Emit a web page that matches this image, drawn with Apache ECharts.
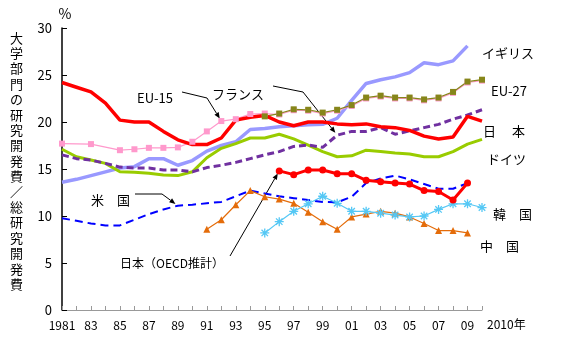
<!DOCTYPE html>
<html>
<head>
<meta charset="utf-8">
<script src="https://cdn.jsdelivr.net/npm/echarts@6/dist/echarts.min.js"></script>
<style>
  html, body { margin: 0; background: #fff; }
  #main { width: 564px; height: 350px; }
</style>
</head>
<body>
<div id="main"></div>
<script>
// 年
const years = [1981, 1982, 1983, 1984, 1985, 1986, 1987, 1988, 1989, 1990,
  1991, 1992, 1993, 1994, 1995, 1996, 1997, 1998, 1999, 2000,
  2001, 2002, 2003, 2004, 2005, 2006, 2007, 2008, 2009, 2010]
const eu15Years = [1981, 1983, 1985, 1986, 1987, 1988, 1989, 1990,
  1991, 1992, 1993, 1994, 1995, 1996, 1997, 1998, 1999, 2000,
  2001, 2002, 2003, 2004, 2005, 2006, 2007, 2008, 2009, 2010]

// 大学部門の研究開発費／総研究開発費 (%)
const japan = [24.2, 23.7, 23.2, 22.0, 20.2, 20.0, 20.0, 19.0, 18.1, 17.6,
  17.6, 18.3, 20.2, 20.5, 20.7, 20.0, 19.6, 20.0, 20.0, 19.8,
  19.7, 19.8, 19.5, 19.4, 19.1, 18.5, 18.2, 18.4, 20.6, 20.1]
const uk = [13.6, 13.9, 14.3, 14.7, 15.1, 15.25, 16.1, 16.1, 15.4, 15.9,
  16.9, 17.5, 17.9, 19.2, 19.3, 19.5, 19.6, 19.7, 19.75, 20.4,
  22.3, 24.1, 24.5, 24.8, 25.25, 26.3, 26.1, 26.5, 28.1]
const germany = [17.1, 16.3, 15.95, 15.6, 14.7, 14.65, 14.55, 14.35, 14.3, 14.7,
  16.2, 17.2, 17.7, 18.3, 18.3, 18.7, 18.2, 17.55, 16.85, 16.3,
  16.4, 17.0, 16.85, 16.7, 16.6, 16.3, 16.3, 16.85, 17.65, 18.15]
const france = [16.5, 16.1, 15.95, 15.6, 15.2, 15.1, 15.1, 14.9, 14.9, 14.7,
  15.15, 15.4, 15.7, 16.1, 16.5, 16.85, 17.4, 17.55, 17.3, 18.6,
  19.0, 19.0, 19.4, 18.7, 19.05, 19.4, 19.75, 20.3, 20.75, 21.3]
const usa = [9.75, 9.5, 9.2, 9.0, 9.0, 9.6, 10.2, 10.7, 11.1, 11.2,
  11.35, 11.5, 12.1, 12.7, 12.4, 12.1, 11.9, 11.7, 11.5, 11.45,
  12.05, 13.5, 14.0, 14.3, 13.9, 13.4, 12.9, 12.9, 13.5]
const eu15 = [17.7, 17.65, 17.0, 17.1, 17.25, 17.25, 17.3, 17.9,
  19.0, 20.1, 20.3, 20.85, 20.9, 20.8, 21.25, 21.2, 20.9, 21.2,
  21.7, 22.5, 22.7, 22.5, 22.5, 22.3, 22.5, 23.1, 24.2, 24.4]
const eu27 = [20.6, 20.9, 21.35, 21.3, 21.0, 21.3, 21.8, 22.6, 22.8, 22.6,
  22.6, 22.4, 22.6, 23.2, 24.3, 24.5]                      // 1995-2010
const japanOecd = [14.8, 14.4, 14.9, 14.9, 14.5, 14.5, 13.8, 13.65, 13.5, 13.4,
  12.7, 12.6, 11.7, 13.5]                                  // 1996-2009
const china = [8.6, 9.6, 11.2, 12.7, 12.05, 11.8, 11.35, 10.4, 9.4, 8.6,
  9.9, 10.2, 10.5, 10.3, 9.9, 9.2, 8.45, 8.45, 8.2]        // 1991-2009
const korea = [8.2, 9.4, 10.5, 11.3, 12.1, 11.35, 10.5, 10.5, 10.3, 10.1,
  9.9, 10.0, 10.7, 11.3, 11.3, 10.9]                       // 1995-2010

const yTicks = [0, 5, 10, 15, 20, 25, 30]
const yTitle = '大学部門の研究開発費／総研究開発費'

const FONT = 'Noto Sans CJK JP'
const pair = (ys, vs) => vs.map((v, i) => [ys[i], v])
const from = (start) => years.slice(years.indexOf(start))
const star = 'path://M0,-5L0,5M-5,0L5,0M-3.6,-3.6L3.6,3.6M-3.6,3.6L3.6,-3.6'

const chart = echarts.init(document.getElementById('main'))

const thick = (name, data, color, width, dash) => ({
  name, type: 'line', data, showSymbol: false, symbol: 'none',
  lineStyle: { color, width, type: dash ? [7, 4] : 'solid', cap: 'butt' },
  animation: false
})

const option = {
  backgroundColor: '#fff',
  animation: false,
  textStyle: { fontFamily: FONT },
  grid: { left: 62, right: 82, top: 28, bottom: 40 },
  xAxis: {
    type: 'value', min: 1981, max: 2010, interval: 1,
    axisLine: { lineStyle: { color: '#999', width: 1 } },
    axisTick: { inside: true, length: 4, lineStyle: { color: '#999' } },
    axisLabel: {
      color: '#000', fontSize: 12, margin: 9, fontFamily: FONT,
      formatter: (v) => {
        if (v === 1981) return '1981'
        if (v === 2010 || v % 2 === 0) return ''
        return String(v).slice(2)
      }
    },
    splitLine: { show: false }
  },
  yAxis: {
    type: 'value', min: yTicks[0], max: yTicks[yTicks.length - 1], interval: 5,
    name: '%', nameLocation: 'end', nameGap: 7,
    nameTextStyle: { color: '#000', fontSize: 14, fontFamily: FONT, padding: [0, 0, 0, 6] },
    axisLine: { lineStyle: { color: '#000', width: 1.5 } },
    axisTick: { inside: true, length: 5, lineStyle: { color: '#000' } },
    axisLabel: { color: '#000', fontSize: 13, margin: 10, fontFamily: FONT },
    splitLine: { show: false }
  },
  series: [
    thick('イギリス', pair(years, uk), '#9999ff', 3.5),
    {
      name: 'EU-15', type: 'line', data: pair(eu15Years, eu15),
      symbol: 'rect', symbolSize: 6, color: '#ff99cc',
      lineStyle: { color: '#ff99cc', width: 1.2 }
    },
    {
      name: 'EU-27', type: 'line', data: pair(from(1995), eu27),
      symbol: 'rect', symbolSize: 6, color: '#86861a',
      lineStyle: { color: '#86861a', width: 1.2 }
    },
    thick('ドイツ', pair(years, germany), '#99cc00', 3),
    thick('フランス', pair(years, france), '#7030a0', 3, true),
    thick('日本', pair(years, japan), '#ff0000', 3.5),
    {
      name: '米国', type: 'line', data: pair(years, usa), symbol: 'none',
      lineStyle: { color: '#0000ff', width: 2, type: [8, 5] }
    },
    {
      name: '中国', type: 'line', data: pair(from(1991), china),
      symbol: 'triangle', symbolSize: 7, color: '#e46c0a',
      lineStyle: { color: '#e46c0a', width: 1.2 }
    },
    {
      name: '韓国', type: 'line', data: pair(from(1995), korea),
      symbol: star, symbolSize: 9,
      itemStyle: { color: 'none', borderColor: '#55c8f5', borderWidth: 1.3 },
      lineStyle: { color: '#55c8f5', width: 1.2 }
    },
    {
      name: '日本(OECD推計)', type: 'line', data: pair(from(1996), japanOecd),
      symbol: 'circle', symbolSize: 7, color: '#ff0000',
      lineStyle: { color: '#ff0000', width: 3 }
    }
  ]
}
chart.setOption(option)

// ラベルと引き出し線
const txt = (text, x, y, size) => ({
  type: 'text', left: x, top: y,
  style: { text, fill: '#000', font: (size || 13) + 'px "' + FONT + '"', verticalAlign: 'middle' }
})
const px = (x, y) => chart.convertToPixel({ gridIndex: 0 }, [x, y])

function leader(points, target) {
  const end = px(target[0], target[1])
  const prev = points[points.length - 1]
  const dx = end[0] - prev[0], dy = end[1] - prev[1]
  const len = Math.sqrt(dx * dx + dy * dy)
  const ux = dx / len, uy = dy / len
  const tip = [end[0] - ux * 3, end[1] - uy * 3]
  const base = [tip[0] - ux * 6, tip[1] - uy * 6]
  const head = [tip, [base[0] - uy * 2.5, base[1] + ux * 2.5], [base[0] + uy * 2.5, base[1] - ux * 2.5]]
  return [
    { type: 'polyline', shape: { points: points.concat([base]) }, style: { stroke: '#000', lineWidth: 1, fill: null } },
    { type: 'polygon', shape: { points: head }, style: { fill: '#000' } }
  ]
}

const graphic = [
  {
    type: 'text', left: 10, top: 30,
    style: { text: yTitle.split('').join('\n'), fill: '#000', font: '13px "' + FONT + '"', lineHeight: 15.4 }
  },
  { type: 'text', left: 487, top: 318, style: { text: '2010年', fill: '#000', font: '12px "' + FONT + '"' } },
  txt('イギリス', 482, 47),
  txt('EU-27', 491, 85),
  txt('日　 本', 483, 125),
  txt('ドイツ', 487, 153),
  txt('韓　国', 493, 208),
  txt('中　国', 480, 240),
  txt('EU-15', 137, 92),
  txt('フランス', 212, 88),
  txt('米　国', 91, 194),
  txt('日本（OECD推計）', 120, 257, 12)
]
  .concat(leader([[182, 92], [207, 98]], [1992, 20.1]))
  .concat(leader([[273, 86], [303, 92]], [2000, 18.6]))
  .concat(leader([[135, 194], [162, 194]], [1989, 11.1]))
  .concat(leader([[230, 256]], [1996, 14.8]))

chart.setOption({ graphic })
</script>
</body>
</html>
